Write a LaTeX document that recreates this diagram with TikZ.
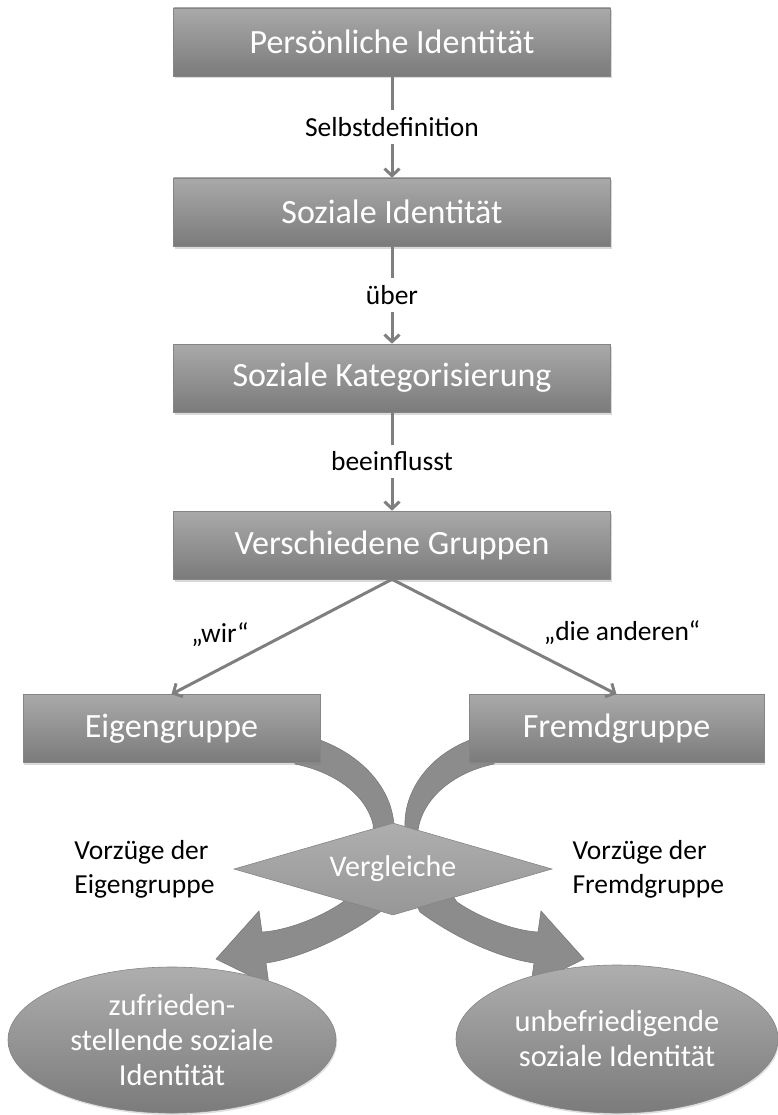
\documentclass[tikz,border=0pt]{standalone}
\usepackage{fontspec}
\setmainfont{Carlito}
\usetikzlibrary{arrows.meta,shapes.geometric,shadows,positioning}

\definecolor{boxtop}{HTML}{A9A9A9}
\definecolor{boxbot}{HTML}{7B7B7B}
\definecolor{edgegray}{HTML}{858585}
\definecolor{linegray}{HTML}{7F7F7F}
\definecolor{bandgray}{HTML}{8C8C8C}
\definecolor{banddark}{HTML}{7A7A7A}
\definecolor{diatop}{HTML}{AEAEAE}
\definecolor{diabot}{HTML}{979797}

\begin{document}
\begin{tikzpicture}[x=1pt, y=-1pt,
    box/.style={rectangle, draw=edgegray, line width=0.6pt, top color=boxtop, bottom color=boxbot,
        text=white, font=\fontsize{34}{40}\selectfont, minimum height=68pt, inner sep=0pt,
        drop shadow={opacity=0.3, shadow xshift=1pt, shadow yshift=-2.5pt}},
    conn/.style={draw=linegray, line width=3pt, -{Straight Barb[length=7pt, width=15pt]}},
    lbl/.style={fill=white, text=black, font=\fontsize{27.5}{32}\selectfont, inner xsep=2pt, inner ysep=7pt},
    side/.style={text=black, font=\fontsize{27.5}{34}\selectfont, align=left, inner sep=0pt},
    oval/.style={ellipse, draw=edgegray, line width=0.6pt, top color=diatop, bottom color=boxbot,
        text=white, font=\fontsize{30.5}{35}\selectfont, align=center, inner sep=0pt,
        drop shadow={opacity=0.25, shadow xshift=1pt, shadow yshift=-2pt}},
    band/.style={fill=bandgray, draw=banddark, line width=0.6pt}]
\useasboundingbox (0,0) rectangle (778,1115);

% curved block arrows, drawn first so the shapes cover their ends
\fill[band] (295,733) .. controls (355,745) and (392,785) .. (394,826) -- (395,842)
    -- (374,840) -- (373,824) .. controls (366,795) and (335,772) .. (295,764) -- cycle;
\fill[band] (494,733) .. controls (434,745) and (403,788) .. (405,828) -- (404,842)
    -- (419,842) -- (418,830) .. controls (423,797) and (455,772) .. (494,764) -- cycle;
\fill[band] (355,885) -- (343,902) .. controls (320,918) and (285,931) .. (262,932)
    -- (259,911) -- (216,959) -- (269,985) -- (266,963)
    .. controls (300,958) and (345,938) .. (380,912) -- (386,900) -- cycle;
\fill[band] (445,885) -- (457,902) .. controls (480,918) and (515,931) .. (538,932)
    -- (541,911) -- (584,959) -- (531,985) -- (534,963)
    .. controls (500,958) and (455,938) .. (420,912) -- (414,900) -- cycle;

% main column
\node[box, minimum width=437pt] (persoenlich) at (392,42) {Persönliche Identität};
\node[box, minimum width=437pt] (sozial) at (392,212) {Soziale Identität};
\node[box, minimum width=437pt] (kategorie) at (392,378) {Soziale Kategorisierung};
\node[box, minimum width=437pt] (gruppen) at (392,545) {Verschiedene Gruppen};

\draw[conn] (persoenlich) -- node[lbl] (selbst) {Selbstdefinition} (sozial);
\draw[conn] (sozial) -- node[lbl] (ueber) {über} (kategorie);
\draw[conn] (kategorie) -- node[lbl] (beein) {beeinflusst} (gruppen);

% the two groups
\node[box, minimum width=297pt] (eigen) at (171.5,728.5) {Eigengruppe};
\node[box, minimum width=295pt] (fremd) at (616.5,728.5) {Fremdgruppe};

\draw[conn] (gruppen.south) -- node[side, pos=0.48, left=36pt] (wir) {„wir“} (eigen.north);
\draw[conn] (gruppen.south) -- node[side, pos=0.46, right=47pt] (andere) {„die anderen“} (fremd.north);

% comparison
\node[diamond, shape aspect=3.4, draw=edgegray, line width=0.6pt, top color=diatop, bottom color=diabot,
    minimum width=318pt, minimum height=92pt, inner sep=0pt, text=white,
    font=\fontsize{30}{35}\selectfont] (vergleich) at (393,869) {Vergleiche};
\node[side, left=19pt of vergleich.west] (vorzeigen) {Vorzüge der\\Eigengruppe};
\node[side, right=20pt of vergleich.east] (vorfremd) {Vorzüge der\\Fremdgruppe};

% results
\node[oval, minimum width=328pt, minimum height=146pt] (zufrieden) at (172,1040)
    {zufrieden-\\stellende soziale\\Identität};
\node[oval, minimum width=322pt, minimum height=148pt] (unbefr) at (617,1039)
    {unbefriedigende\\soziale Identität};
\end{tikzpicture}
\end{document}
